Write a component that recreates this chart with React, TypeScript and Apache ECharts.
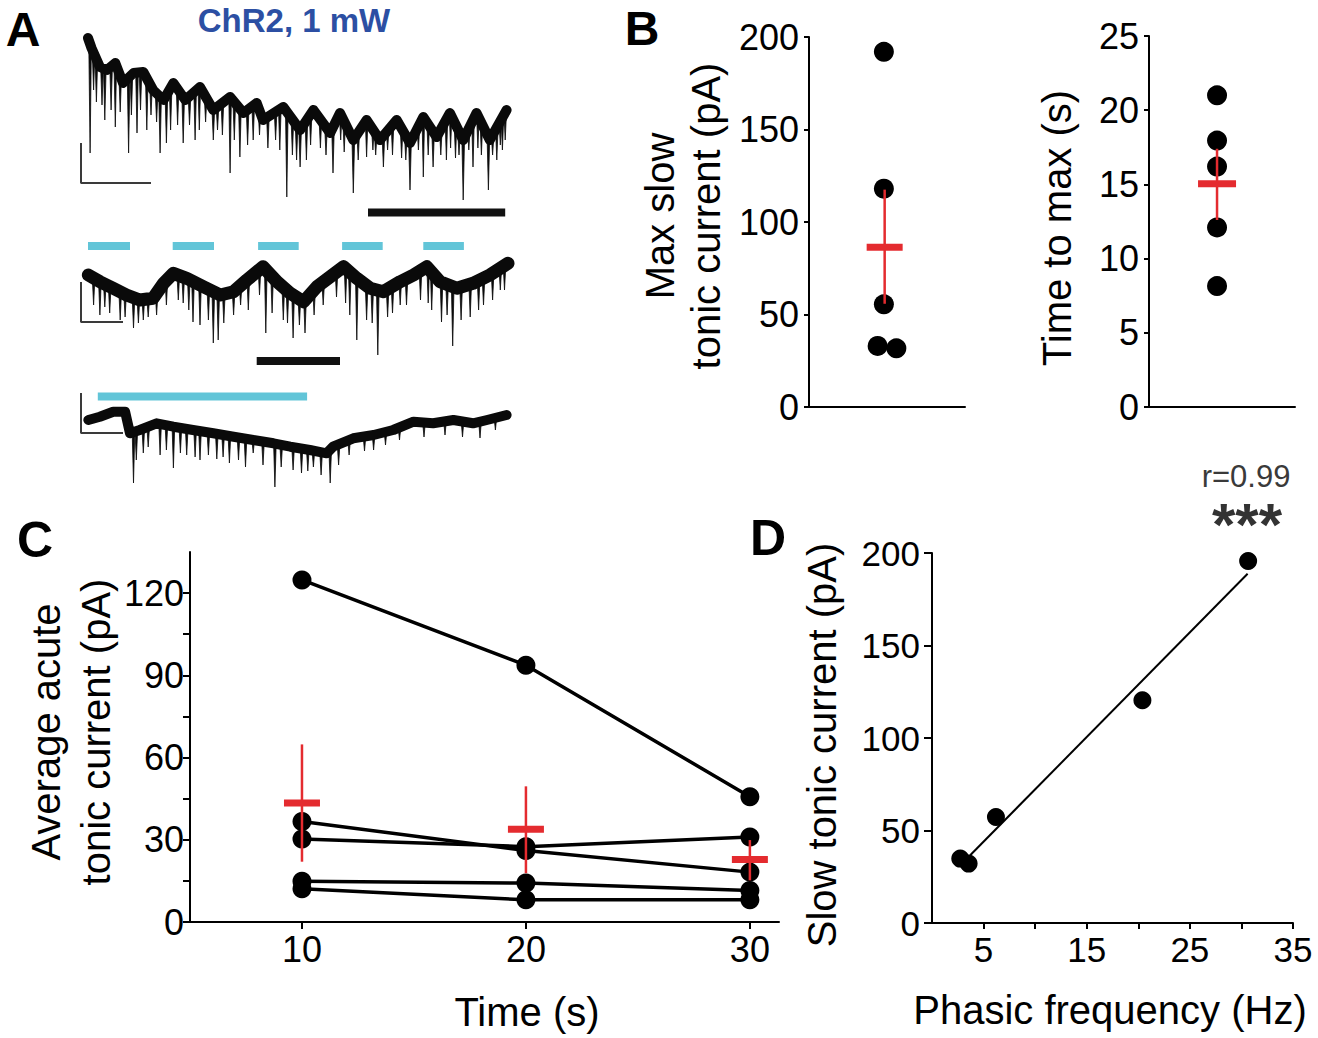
import React, { useEffect, useRef } from "react";
import * as echarts from "echarts";

const FONT = '"Liberation Sans", Arial, Helvetica, sans-serif';
const RED = "#e42b2f";
const CYAN = "#62c5d8";
const BLUE = "#2c4fa3";

// ---------- Panel A: traces (time in s, current in a.u.) ----------
const trace1Band: number[][] = [
  [0, -8], [0.5, -18], [1.7, -37], [2.7, -40], [3.9, -33], [5.0, -53], [6.5, -43], [7.9, -42],
  [9.3, -60], [10.8, -70], [12.2, -53], [13.9, -70], [16.0, -57], [17.9, -80], [20.3, -67],
  [22.2, -83], [24.1, -73], [25.0, -90], [27.9, -77], [30.3, -100], [32.2, -80], [34.6, -103],
  [36.0, -83], [37.9, -110], [39.8, -90], [41.7, -110], [44.1, -90], [46.0, -113], [47.9, -87],
  [49.8, -107], [51.7, -83], [53.6, -110], [55.5, -83], [57.4, -110], [59.8, -80],
];
const trace1Spikes: number[][] = [
  [0.3, -123], [1.2, -72], [2.4, -90], [3.9, -97], [4.6, -82], [5.8, -123], [7.0, -103], [8.4, -100],
  [9.8, -92], [10.3, -123], [11.2, -113], [12.8, -95], [13.6, -113], [15.3, -110], [16.8, -92],
  [17.9, -110], [19.2, -105], [20.3, -143], [21.7, -127], [23.6, -110], [25.7, -118], [26.8, -110],
  [28.4, -167], [29.2, -125], [30.3, -137], [31.2, -130], [33.2, -118], [35.0, -143], [36.6, -122],
  [37.9, -163], [39.8, -127], [40.7, -120], [42.2, -137], [43.5, -125], [44.8, -128], [46.0, -160],
  [47.9, -147], [48.6, -125], [49.3, -137], [51.2, -130], [52.5, -128], [53.6, -170], [55.0, -137],
  [56.2, -125], [57.2, -160], [58.4, -130], [59.2, -120],
  [0.8, -60], [2.0, -75], [3.3, -80], [6.2, -85], [7.5, -80], [9.0, -85], [11.8, -100], [14.5, -95],
  [15.9, -100], [18.5, -100], [20.9, -110], [22.8, -115], [24.5, -105], [27.4, -120], [29.8, -130],
  [31.8, -115], [34.0, -125], [36.1, -110], [38.6, -130], [41.1, -125], [42.8, -120], [45.4, -130],
  [47.2, -120], [50.4, -125], [51.8, -118], [53.0, -125], [54.4, -120], [55.7, -118], [57.8, -125],
  [58.9, -115], [59.6, -110],
];
const trace1ScaleBar: number[][] = [[-1, -113], [-1, -153], [9, -153]];
const trace1Bars: number[][] = [[40, 59.6, -182.5]];

const trace2Band: number[][] = [
  [0.05, -40], [1.7, -46.7], [3.6, -53.3], [5.5, -60], [7.4, -65], [9.3, -63.3], [10.8, -48.3],
  [12.2, -38.3], [14.1, -43.3], [16.5, -51.7], [18.9, -60], [20.8, -56.7], [22.7, -45], [25.0, -31.7],
  [27.0, -46.7], [28.9, -58.3], [30.8, -66.7], [32.7, -51.7], [34.6, -41.7], [36.5, -31.7],
  [38.4, -43.3], [40.3, -53.3], [42.2, -56.7], [44.6, -46.7], [46.5, -40], [48.4, -31.7],
  [50.3, -46.7], [52.7, -53.3], [55.0, -48.3], [57.4, -40], [60.0, -28.3],
];
const trace2Spikes: number[][] = [
  [1.7, -80], [3.1, -78], [4.6, -85], [6.5, -93], [7.9, -85], [9.8, -80], [13.6, -68], [15.0, -87],
  [16.0, -90], [17.9, -108], [18.6, -105], [20.8, -80], [22.9, -75], [25.4, -98], [27.9, -85],
  [29.3, -103], [31.0, -98], [37.4, -80], [38.4, -105], [39.8, -85], [41.4, -120], [44.6, -70],
  [49.1, -75], [50.5, -87], [52.1, -111], [54.6, -82], [56.5, -70], [58.9, -55],
  [0.8, -70], [2.4, -72], [5.3, -82], [7.2, -88], [8.6, -82], [11.2, -70], [12.9, -65], [14.4, -75],
  [17.2, -85], [19.4, -88], [21.8, -70], [24.5, -60], [26.3, -78], [28.5, -88], [30.2, -90],
  [32.3, -80], [33.6, -70], [35.5, -62], [36.8, -68], [40.6, -88], [42.8, -82], [43.5, -78],
  [45.5, -70], [47.5, -65], [48.6, -68], [51.3, -80], [53.3, -85], [55.8, -75], [57.8, -65], [59.5, -55],
];
const trace2ScaleBar: number[][] = [[-1, -47], [-1, -87], [5, -87]];
const trace2Light: number[][] = [[0, 6, -11], [12.1, 18, -11], [24.3, 30.1, -11], [36.3, 42.1, -11], [47.9, 53.7, -11]];
const trace2Bars: number[][] = [[24.1, 36, -126]];

const trace3Band: number[][] = [
  [0.05, -35], [1.7, -31.7], [3.6, -26.7], [5.3, -26.7], [6.0, -48.3], [7.4, -45], [9.8, -38.3],
  [12.2, -41.7], [15.0, -45], [17.9, -48.3], [20.8, -51.7], [23.6, -55], [26.5, -58.3], [28.9, -61.7],
  [31.7, -65], [34.1, -68.3], [35.0, -61.7], [37.9, -53.3], [40.8, -50], [43.6, -45], [46.5, -36.7],
  [49.3, -38.3], [52.2, -35], [55.0, -38.3], [57.0, -35], [59.8, -30],
];
const trace3Spikes: number[][] = [
  [6.5, -98], [7.9, -68], [10.3, -70], [12.2, -83], [14.1, -70], [16.0, -75], [19.3, -72], [21.5, -75],
  [23.6, -68], [26.7, -102], [29.3, -85], [32.2, -82], [34.6, -98], [40.8, -65], [56.0, -53],
  [6.9, -75], [8.6, -62], [11.2, -65], [13.2, -68], [15.3, -72], [17.2, -70], [18.4, -74], [20.2, -78],
  [22.5, -82], [25.0, -80], [27.6, -82], [30.5, -88], [31.4, -86], [33.3, -90], [35.8, -80],
  [37.3, -70], [39.5, -66], [42.5, -60], [44.5, -55], [48.0, -52], [51.0, -50], [53.5, -52], [58.2, -45],
];
const trace3ScaleBar: number[][] = [[-1, -8], [-1, -48], [5, -48]];
const trace3Light: number[][] = [[1.4, 31.3, -11.5]];

// ---------- Panel B ----------
const bMaxSlow = [192, 118, 55.5, 33, 31.7];
const bMaxSlowX = [4.8, 4.8, 4.8, 4.4, 5.6];
const bMaxSlowStats = [4.85, 86.3, 55.8, 117.5]; // x, mean, low, high
const bTimeToMax = [21.0, 17.95, 16.2, 12.1, 8.15];
const bTimeToMaxX = [4.66, 4.66, 4.66, 4.66, 4.66];
const bTimeToMaxStats = [4.66, 15.05, 12.6, 17.4];
const bLeftTicks = [0, 50, 100, 150, 200];
const bRightTicks = [0, 5, 10, 15, 20, 25];

// ---------- Panel C ----------
const cTime = [10, 20, 30];
const cCells = [
  [124.8, 93.7, 45.7],
  [36.7, 26.1, 18.2],
  [30.3, 27.5, 31.0],
  [14.9, 14.2, 11.5],
  [12.1, 8.1, 8.1],
];
const cMean = [43.4, 33.8, 22.8];
const cLow = [22, 17.8, 15.2];
const cHigh = [64.8, 49.5, 29.9];
const cYTicks = [0, 15, 30, 45, 60, 75, 90, 105, 120];
const cYLabels = [0, 30, 60, 90, 120];
const cXTicks = [10, 20, 30];

// ---------- Panel D ----------
const dFreq = [30.65, 20.4, 6.2, 2.74, 3.55];
const dSlow = [195.7, 120.4, 57.3, 34.8, 32.1];
const dFitX = [3.7, 30.6];
const dFitY = [36.6, 188.8];
const dXTicks = [5, 10, 15, 20, 25, 30, 35];
const dXLabels = [5, 15, 25, 35];
const dYTicks = [0, 50, 100, 150, 200];

function bandAt(band: number[][], t: number) {
  for (let i = 1; i < band.length; i++) {
    if (t <= band[i][0]) {
      const [t0, v0] = band[i - 1];
      const [t1, v1] = band[i];
      return v0 + ((v1 - v0) * (t - t0)) / (t1 - t0);
    }
  }
  return band[band.length - 1][1];
}

function bandSeries(gi: number, band: number[][], width: number) {
  return {
    type: "line", xAxisIndex: gi, yAxisIndex: gi, data: band, symbol: "none", silent: true,
    lineStyle: { color: "#0a0a0a", width, join: "round", cap: "round" },
  };
}
function spikeSeries(gi: number, band: number[][], spikes: number[][]) {
  return {
    type: "custom", xAxisIndex: gi, yAxisIndex: gi, data: spikes, silent: true,
    encode: { x: 0, y: 1 },
    renderItem: (_p: any, api: any) => {
      const t = api.value(0);
      const d = api.value(1);
      const top = bandAt(band, t);
      const a = api.coord([t, top]);
      const b = api.coord([t, d]);
      return {
        type: "polygon",
        shape: { points: [[a[0] - 1.3, a[1]], [b[0], b[1]], [a[0] + 1.3, a[1]]] },
        style: { fill: "#0a0a0a", stroke: "#0a0a0a", lineWidth: 0.8 },
      };
    },
  };
}
function scaleBarSeries(gi: number, data: number[][]) {
  return {
    type: "line", xAxisIndex: gi, yAxisIndex: gi, data, symbol: "none", silent: true,
    lineStyle: { color: "#3a3a3a", width: 2 },
  };
}
function stimSeries(gi: number, data: number[][], color: string) {
  return {
    type: "custom", xAxisIndex: gi, yAxisIndex: gi, data, silent: true,
    encode: { x: [0, 1], y: 2 },
    renderItem: (_p: any, api: any) => {
      const a = api.coord([api.value(0), api.value(2)]);
      const b = api.coord([api.value(1), api.value(2)]);
      return { type: "rect", shape: { x: a[0], y: a[1] - 4, width: b[0] - a[0], height: 8 }, style: { fill: color } };
    },
  };
}
function errorSeries(gi: number, data: number[][], halfW: number) {
  return {
    type: "custom", xAxisIndex: gi, yAxisIndex: gi, data, z: 10, silent: true,
    encode: { x: 0, y: [1, 2, 3] },
    renderItem: (_p: any, api: any) => {
      const x = api.value(0);
      const c = api.coord([x, api.value(1)]);
      const l = api.coord([x, api.value(2)]);
      const h = api.coord([x, api.value(3)]);
      return {
        type: "group",
        children: [
          { type: "line", shape: { x1: c[0], y1: h[1], x2: c[0], y2: l[1] }, style: { stroke: RED, lineWidth: 2.5 } },
          { type: "rect", shape: { x: c[0] - halfW, y: c[1] - 3.5, width: halfW * 2, height: 7 }, style: { fill: RED } },
        ],
      };
    },
  };
}

const AX_LINE = { show: true, lineStyle: { color: "#000", width: 2 } };
const hiddenAxis = (gi: number, min: number, max: number) => ({
  type: "value", gridIndex: gi, min, max, show: false, splitLine: { show: false },
});
const labelStyle = (size: number, margin: number) => ({
  show: true, fontSize: size, color: "#000", fontFamily: FONT, margin,
});

function txt(x: number, y: number, text: string, size: number, opts: any = {}) {
  return {
    type: "text", x, y, rotation: opts.rot ? Math.PI / 2 : 0, silent: true,
    style: {
      text, fontSize: size, fontFamily: FONT, fontWeight: opts.bold ? "bold" : "normal",
      fill: opts.color || "#000", align: "center", verticalAlign: "middle",
      lineHeight: opts.lh || size * 1.15,
    },
  };
}

function buildOption() {
  const grid = (left: number, top: number, width: number, height: number) => ({
    left, top, width, height, containLabel: false, outerBoundsMode: "none",
  });
  return {
    animation: false,
    textStyle: { fontFamily: FONT },
    grid: [
      grid(81, 30, 430.5, 190),
      grid(81, 235, 430.5, 135),
      grid(81, 385, 430.5, 110),
      grid(809, 37, 156, 370),
      grid(1149, 36, 146, 371),
      grid(190, 552, 589, 370),
      grid(932, 553, 361, 370),
    ],
    xAxis: [
      hiddenAxis(0, -1, 60.5),
      hiddenAxis(1, -1, 60.5),
      hiddenAxis(2, -1, 60.5),
      { type: "value", gridIndex: 3, min: 0, max: 10, axisLine: AX_LINE, axisTick: { show: false }, axisLabel: { show: false }, splitLine: { show: false } },
      { type: "value", gridIndex: 4, min: 0, max: 10, axisLine: AX_LINE, axisTick: { show: false }, axisLabel: { show: false }, splitLine: { show: false } },
      {
        type: "value", gridIndex: 5, min: 5, max: 31.3, axisLine: AX_LINE,
        axisTick: { show: true, length: 7, lineStyle: { color: "#000", width: 2 }, customValues: cXTicks },
        axisLabel: { ...labelStyle(36, 9), customValues: cXTicks },
        splitLine: { show: false },
      },
      {
        type: "value", gridIndex: 6, min: 0, max: 35, axisLine: AX_LINE,
        axisTick: { show: true, length: 6, lineStyle: { color: "#000", width: 2 }, customValues: dXTicks },
        axisLabel: { ...labelStyle(35, 9), customValues: dXLabels },
        splitLine: { show: false },
      },
    ],
    yAxis: [
      hiddenAxis(0, -190, 0),
      hiddenAxis(1, -135, 0),
      hiddenAxis(2, -110, 0),
      {
        type: "value", gridIndex: 3, min: 0, max: 200, axisLine: AX_LINE,
        axisTick: { show: true, length: 5, lineStyle: { color: "#000", width: 2 }, customValues: bLeftTicks },
        axisLabel: { ...labelStyle(36, 10), customValues: bLeftTicks },
        splitLine: { show: false },
      },
      {
        type: "value", gridIndex: 4, min: 0, max: 25, axisLine: AX_LINE,
        axisTick: { show: true, length: 5, lineStyle: { color: "#000", width: 2 }, customValues: bRightTicks },
        axisLabel: { ...labelStyle(36, 10), customValues: bRightTicks },
        splitLine: { show: false },
      },
      {
        type: "value", gridIndex: 5, min: 0, max: 135, axisLine: AX_LINE,
        axisTick: { show: true, length: 7, lineStyle: { color: "#000", width: 2 }, customValues: cYTicks },
        axisLabel: { ...labelStyle(36, 6), customValues: cYLabels },
        splitLine: { show: false },
      },
      {
        type: "value", gridIndex: 6, min: 0, max: 200, axisLine: AX_LINE,
        axisTick: { show: true, length: 8, lineStyle: { color: "#000", width: 2 }, customValues: dYTicks },
        axisLabel: { ...labelStyle(35, 12), customValues: dYTicks },
        splitLine: { show: false },
      },
    ],
    series: [
      // Panel A
      bandSeries(0, trace1Band, 10),
      spikeSeries(0, trace1Band, trace1Spikes),
      scaleBarSeries(0, trace1ScaleBar),
      stimSeries(0, trace1Bars, "#111"),
      bandSeries(1, trace2Band, 13),
      spikeSeries(1, trace2Band, trace2Spikes),
      scaleBarSeries(1, trace2ScaleBar),
      stimSeries(1, trace2Light, CYAN),
      stimSeries(1, trace2Bars, "#111"),
      bandSeries(2, trace3Band, 10),
      spikeSeries(2, trace3Band, trace3Spikes),
      scaleBarSeries(2, trace3ScaleBar),
      stimSeries(2, trace3Light, CYAN),
      // Panel B
      {
        type: "scatter", xAxisIndex: 3, yAxisIndex: 3, symbolSize: 20, itemStyle: { color: "#000", opacity: 1 },
        data: bMaxSlow.map((v, i) => [bMaxSlowX[i], v]),
      },
      errorSeries(3, [bMaxSlowStats], 18),
      {
        type: "scatter", xAxisIndex: 4, yAxisIndex: 4, symbolSize: 20, itemStyle: { color: "#000", opacity: 1 },
        data: bTimeToMax.map((v, i) => [bTimeToMaxX[i], v]),
      },
      errorSeries(4, [bTimeToMaxStats], 19),
      // Panel C
      ...cCells.map((cell) => ({
        type: "line", xAxisIndex: 5, yAxisIndex: 5, symbol: "circle", symbolSize: 19,
        data: cell.map((v, i) => [cTime[i], v]),
        lineStyle: { color: "#000", width: 3.5 }, itemStyle: { color: "#000" },
      })),
      errorSeries(5, cTime.map((t, i) => [t, cMean[i], cLow[i], cHigh[i]]), 18),
      // Panel D
      {
        type: "line", xAxisIndex: 6, yAxisIndex: 6, symbol: "none",
        data: dFitX.map((x, i) => [x, dFitY[i]]), lineStyle: { color: "#000", width: 2 },
      },
      {
        type: "scatter", xAxisIndex: 6, yAxisIndex: 6, symbolSize: 18, itemStyle: { color: "#000", opacity: 1 },
        data: dFreq.map((x, i) => [x, dSlow[i]]), z: 5,
      },
    ],
    graphic: [
      txt(23, 29, "A", 48, { bold: true, lh: 48 }),
      txt(294, 20, "ChR2, 1 mW", 33, { bold: true, color: BLUE, lh: 33 }),
      txt(642, 28, "B", 48, { bold: true, lh: 48 }),
      txt(35, 540, "C", 50, { bold: true }),
      txt(768, 538, "D", 50, { bold: true }),
      txt(683, 216, "Max slow\ntonic current (pA)", 40, { rot: true, lh: 46 }),
      txt(1057, 228, "Time to max (s)", 40, { rot: true }),
      txt(71, 732, "Average acute\ntonic current (pA)", 40, { rot: true, lh: 50 }),
      txt(527, 1012, "Time (s)", 40),
      txt(822, 745, "Slow tonic current (pA)", 40, { rot: true }),
      txt(1110, 1010, "Phasic frequency (Hz)", 40),
      txt(1246, 476, "r=0.99", 31, { color: "#3a3a3a" }),
      txt(1247, 524, "***", 60, { bold: true, color: "#333" }),
    ],
  };
}

export default function App() {
  const ref = useRef<HTMLDivElement>(null);
  useEffect(() => {
    document.body.style.margin = "0";
    const chart = echarts.init(ref.current as HTMLDivElement, null, { renderer: "svg" });
    chart.setOption(buildOption() as any);
    return () => chart.dispose();
  }, []);
  return <div ref={ref} style={{ width: 1318, height: 1038 }} />;
}
